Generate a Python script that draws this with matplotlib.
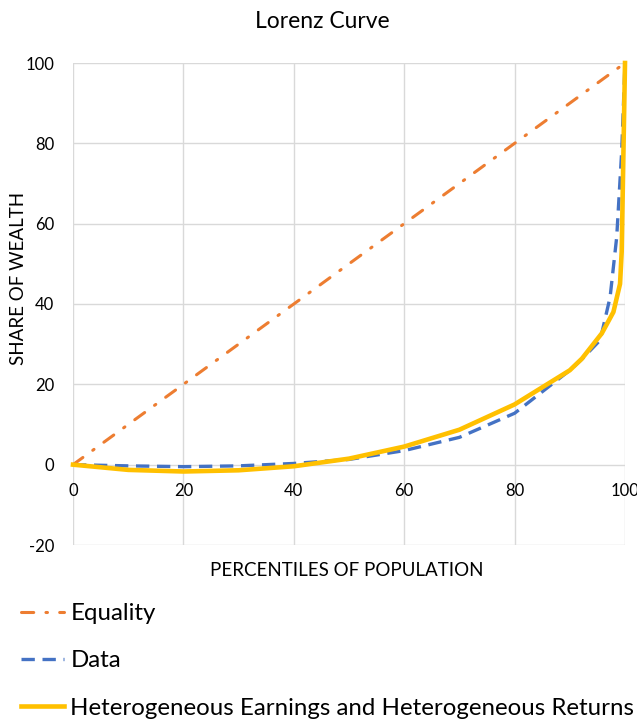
import matplotlib
matplotlib.use("Agg")
import matplotlib.pyplot as plt

plt.rcParams['font.family'] = ['Lato', 'DejaVu Sans']
plt.rcParams['axes.unicode_minus'] = False

percentiles_eq = [0, 100]
equality = [0, 100]

data_x = [0, 10, 20, 30, 40, 50, 60, 70, 80, 90, 92, 95.5, 97.3, 98.5, 99.4, 100]
data_y = [0, -0.3, -0.5, -0.3, 0.3, 1.3, 3.5, 6.8, 12.8, 23.5, 26, 31, 41.7, 56.7, 78, 100]

het_x = [0, 10, 20, 30, 40, 50, 60, 70, 80, 90, 92.2, 95.8, 97.9, 99.1, 99.4, 100]
het_y = [0, -1.3, -1.7, -1.4, -0.4, 1.5, 4.5, 8.7, 15, 23.5, 26.4, 32.7, 38, 45, 53, 100]

xticks = [0, 20, 40, 60, 80, 100]
yticks = [-20, 0, 20, 40, 60, 80, 100]

W, H = 637, 720
fig = plt.figure(figsize=(W / 100, H / 100), dpi=100)
ax = fig.add_axes([73 / W, 1 - 545 / H, (625 - 73) / W, (545 - 63) / H])

l1, = ax.plot(percentiles_eq, equality, color='#ED7D31', lw=2.2,
              linestyle=(0, (4, 4, 0.5, 4)), label='Equality',
              dash_capstyle='round', clip_on=False, zorder=3)
l2, = ax.plot(data_x, data_y, color='#4472C4', lw=2.4, linestyle=(0, (4, 2.3)),
              label='Data', clip_on=False, zorder=4)
l3, = ax.plot(het_x, het_y, color='#FFC000', lw=3.3,
              label='Heterogeneous Earnings and Heterogeneous Returns',
              clip_on=False, zorder=5)

ax.set_xlim(0, 100)
ax.set_ylim(-20, 100)
ax.set_xticks(xticks)
ax.set_yticks(yticks)
ax.grid(True, color='#D9D9D9', lw=1)
ax.set_axisbelow(True)
for s in ax.spines.values():
    s.set_visible(False)
ax.spines['bottom'].set_position(('data', 0))
ax.tick_params(axis='x', length=0, labelsize=12, pad=13.5, colors='black')
ax.tick_params(axis='y', length=0, labelsize=12, pad=13.5, colors='black')

fig.text(347 / W, 1 - 571 / H, 'PERCENTILES OF POPULATION', fontsize=13.5,
         ha='center', va='center')
fig.text(19 / W, 1 - 278 / H, 'SHARE OF WEALTH', fontsize=13.5,
         ha='center', va='center', rotation=90)
fig.text(322 / W, 1 - 21 / H, 'Lorenz Curve', fontsize=16.5,
         ha='center', va='center')

fig.legend(handles=[l1, l2, l3], loc='upper left', bbox_to_anchor=(21 / W, 1 - 603 / H),
           frameon=False, fontsize=17.3, labelspacing=1.1, handlelength=1.8,
           handletextpad=0.25, borderaxespad=0, borderpad=0)

fig.savefig('out.png', dpi=100)
